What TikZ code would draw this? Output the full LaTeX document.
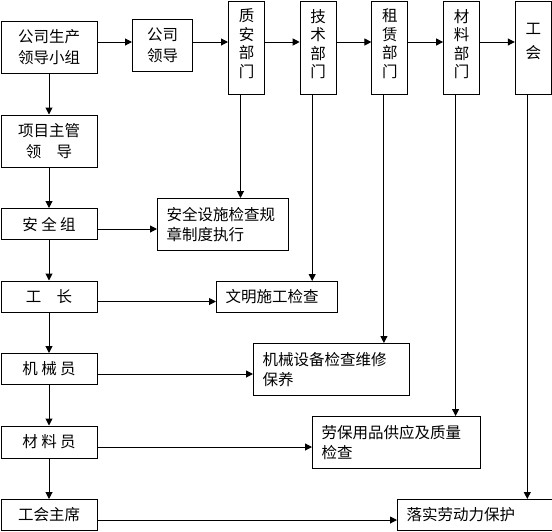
\documentclass[tikz,border=0pt]{standalone}
\usepackage{fontspec}
\setmainfont{Noto Sans CJK SC}
\usetikzlibrary{arrows.meta,positioning}

\begin{document}
\begin{tikzpicture}[x=1pt,y=-1pt,font=\fontsize{15.5pt}{21pt}\selectfont,node distance=40.5pt,
  box/.style={draw,line width=1pt,minimum width=96pt,align=center,inner sep=0pt},
  dept/.style={draw,line width=1pt,minimum width=36pt,minimum height=93.5pt,align=center,inner sep=0pt,font=\fontsize{15.5pt}{18.5pt}\selectfont},
  task/.style={draw,line width=1pt,anchor=north west,align=left,inner xsep=9pt,inner ysep=0pt,font=\fontsize{15.5pt}{20pt}\selectfont},
  a/.style={-{Triangle[length=7pt,width=7pt]},line width=1pt}]
  \useasboundingbox (0,0) rectangle (552,531);
  % left column
  \node[box,minimum height=52pt,anchor=north west] (zs) at (0.5,21) {公司生产\\领导小组};
  \node[box,minimum height=52pt,below=of zs] (xm) {项目主管\\领　导};
  \node[box,minimum height=31pt,below=of xm] (aqz) {安 全 组};
  \node[box,minimum height=31pt,below=of aqz] (gz) {工　长};
  \node[box,minimum height=31pt,below=of gz] (jxy) {机 械 员};
  \node[box,minimum height=32pt,below=of jxy] (cly) {材 料 员};
  \node[box,minimum height=31pt,below=of cly] (ghzx) {工会主席};
  % top row
  \node[box,minimum width=60pt,minimum height=52pt,anchor=north west] (gs) at (132,19) {公司\\领导};
  \node[dept,anchor=north west] (za) at (228,0.5) {质\\安\\部\\门\\[-9.5pt]\mbox{}};
  \node[dept,right=34.7pt of za] (js) {技\\术\\部\\门\\[-9.5pt]\mbox{}};
  \node[dept,right=34.7pt of js] (zl) {租\\赁\\部\\门\\[-9.5pt]\mbox{}};
  \node[dept,right=34.7pt of zl] (cl) {材\\料\\部\\门\\[-9.5pt]\mbox{}};
  \node[dept,right=34.7pt of cl] (gh) {工\\[5.5pt]会\\[-4pt]\mbox{}};
  % checks
  \node[task,text width=113pt,minimum height=52pt] (ss) at (157,198) {安全设施检查规\\章制度执行};
  \node[task,text width=103pt,minimum height=31pt] (wm) at (216,281) {文明施工检查};
  \node[task,text width=138pt,minimum height=52pt] (jx) at (253,343) {机械设备检查维修\\保养};
  \node[task,text width=150pt,minimum height=52pt] (lb) at (312,416) {劳保用品供应及质量\\检查};
  \node[task,text width=136.5pt,minimum height=31pt] (ls) at (397,499) {落实劳动力保护};
  \coordinate (top) at (0,42);
  \draw[a] (zs)--(xm); \draw[a] (xm)--(aqz); \draw[a] (aqz)--(gz);
  \draw[a] (gz)--(jxy); \draw[a] (jxy)--(cly); \draw[a] (cly)--(ghzx);
  \draw[a] (zs.east |- top)--(gs.west |- top); \draw[a] (gs.east |- top)--(za.west |- top);
  \draw[a] (za.east |- top)--(js.west |- top); \draw[a] (js.east |- top)--(zl.west |- top);
  \draw[a] (zl.east |- top)--(cl.west |- top); \draw[a] (cl.east |- top)--(gh.west |- top);
  \draw[a] ([xshift=-6pt]za.south)--([xshift=-6pt]za.south |- ss.north);
  \draw[a] ([xshift=-6pt]js.south)--([xshift=-6pt]js.south |- wm.north);
  \draw[a] ([xshift=-6pt]zl.south)--([xshift=-6pt]zl.south |- jx.north);
  \draw[a] ([xshift=-6pt]cl.south)--([xshift=-6pt]cl.south |- lb.north);
  \draw[a] ([xshift=-6pt]gh.south)--([xshift=-6pt]gh.south |- ls.north);
  \draw[a] ([yshift=-5pt]aqz.east)--([yshift=-5pt]aqz.east -| ss.west);
  \draw[a] ([yshift=-5pt]gz.east)--([yshift=-5pt]gz.east -| wm.west);
  \draw[a] ([yshift=-5pt]jxy.east)--([yshift=-5pt]jxy.east -| jx.west);
  \draw[a] ([yshift=-5pt]cly.east)--([yshift=-5pt]cly.east -| lb.west);
  \draw[a] ([yshift=-5pt]ghzx.east)--([yshift=-5pt]ghzx.east -| ls.west);
\end{tikzpicture}
\end{document}
